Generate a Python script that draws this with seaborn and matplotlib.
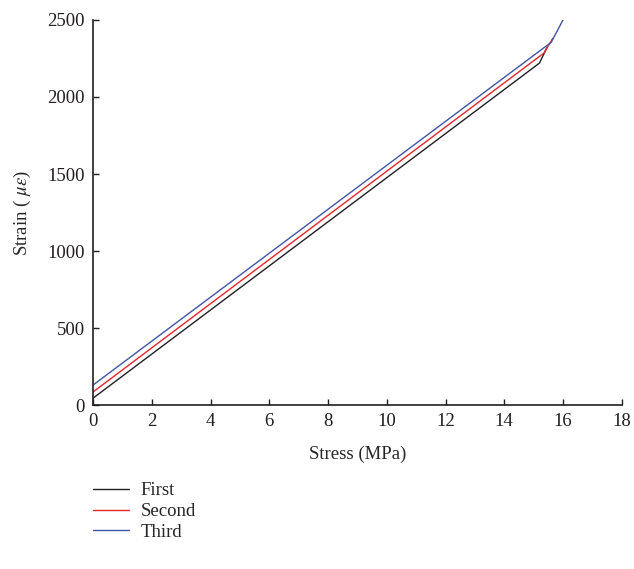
import numpy as np
import pandas as pd
import matplotlib
matplotlib.use("Agg")
import matplotlib.pyplot as plt
import seaborn as sns

# values
first_stress = [0, 15.2, 15.45]
first_strain = [45, 2220, 2320]
second_stress = [0, 15.35, 15.65]
second_strain = [85, 2285, 2380]
third_stress = [0, 15.6, 16.0]
third_strain = [130, 2355, 2500]

series = ["First", "Second", "Third"]
colors = ["#231f20", "#e3262b", "#3f55a5"]


def main():
    df = pd.concat([
        pd.DataFrame({"stress": first_stress, "strain": first_strain, "run": "First"}),
        pd.DataFrame({"stress": second_stress, "strain": second_strain, "run": "Second"}),
        pd.DataFrame({"stress": third_stress, "strain": third_strain, "run": "Third"}),
    ])

    sns.set_style("ticks")
    plt.rcParams['font.family'] = ['Liberation Serif', 'DejaVu Serif']
    plt.rcParams['mathtext.fontset'] = 'stix'

    fig = plt.figure(figsize=(6.34, 5.69), dpi=100)
    ax = fig.add_axes([0.1467, 0.288, 0.834, 0.677])

    sns.lineplot(data=df, x="stress", y="strain", hue="run", hue_order=series,
                 palette=colors, linewidth=1.0, sort=False, estimator=None, ax=ax)

    ax.set_xlim(0, 18)
    ax.set_ylim(0, 2500)
    ax.set_xticks(np.arange(0, 19, 2))
    ax.set_yticks(np.arange(0, 2501, 500))
    sns.despine(ax=ax)
    ax.tick_params(direction="in", length=4, width=1, labelsize=13.5,
                   colors="#231f20", pad=6)
    for s in ["left", "bottom"]:
        ax.spines[s].set_linewidth(1.2)
        ax.spines[s].set_color("#231f20")

    ax.set_xlabel("Stress (MPa)", fontsize=13.5, labelpad=11)
    ax.set_ylabel(r"Strain ( $\mu\varepsilon$)", fontsize=13.5, labelpad=10)

    leg = ax.legend(loc="upper left", bbox_to_anchor=(0.0, -0.2), frameon=False,
                    fontsize=13.5, handlelength=1.9, handletextpad=0.65,
                    labelspacing=0.2, borderpad=0, borderaxespad=0)
    for h in leg.get_lines():
        h.set_linewidth(1.0)

    fig.savefig("out.png", dpi=100)


if __name__ == '__main__':
    main()
